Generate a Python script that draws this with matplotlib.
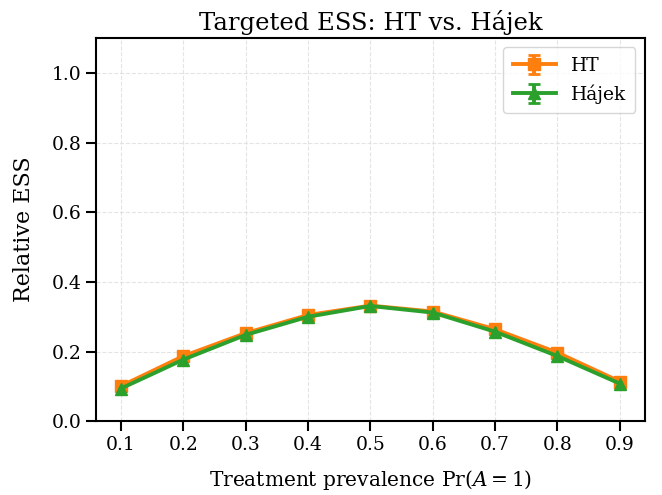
import matplotlib

matplotlib.use("Agg")

import matplotlib.pyplot as plt

plt.rcParams["font.family"] = "DejaVu Serif"
plt.rcParams["mathtext.fontset"] = "dejavuserif"

prevalence = [0.1, 0.2, 0.3, 0.4, 0.5, 0.6, 0.7, 0.8, 0.9]
ess_ht = [0.101, 0.187, 0.253, 0.305, 0.332, 0.315, 0.264, 0.197, 0.114]
ess_hajek = [0.094, 0.177, 0.248, 0.300, 0.331, 0.312, 0.257, 0.187, 0.108]
err_ht = [0.005, 0.005, 0.005, 0.005, 0.005, 0.005, 0.005, 0.005, 0.005]
err_hajek = [0.005, 0.005, 0.005, 0.005, 0.005, 0.005, 0.005, 0.005, 0.005]

fig, ax = plt.subplots(figsize=(6.62, 4.95), dpi=100)
ax.errorbar(prevalence, ess_ht, yerr=err_ht, color="#ff7f0e", marker="s",
            markersize=8, linewidth=2.8, capsize=4, capthick=2, label="HT")
ax.errorbar(prevalence, ess_hajek, yerr=err_hajek, color="#2ca02c", marker="^",
            markersize=8, linewidth=2.8, capsize=4, capthick=2, label="Hájek")

ax.set_xlim(0.06, 0.94)
ax.set_ylim(0, 1.1)
ax.set_xticks(prevalence)
ax.set_yticks([0.0, 0.2, 0.4, 0.6, 0.8, 1.0])
ax.tick_params(labelsize=13.5, length=7, width=1.5)
for spine in ax.spines.values():
    spine.set_linewidth(1.5)
ax.grid(True, linestyle="--", color="#d9d9d9", alpha=0.7)
ax.set_xlabel(r"Treatment prevalence $\Pr(A=1)$", fontsize=14.5, labelpad=10)
ax.set_ylabel("Relative ESS", fontsize=16, labelpad=12)
ax.set_title("Targeted ESS: HT vs. Hájek", fontsize=17.5)
ax.legend(loc="upper right", fontsize=13.5, handlelength=2.3, borderpad=0.5)

fig.subplots_adjust(left=0.145, right=0.974, top=0.923, bottom=0.149)
fig.savefig("out.png", dpi=100)
